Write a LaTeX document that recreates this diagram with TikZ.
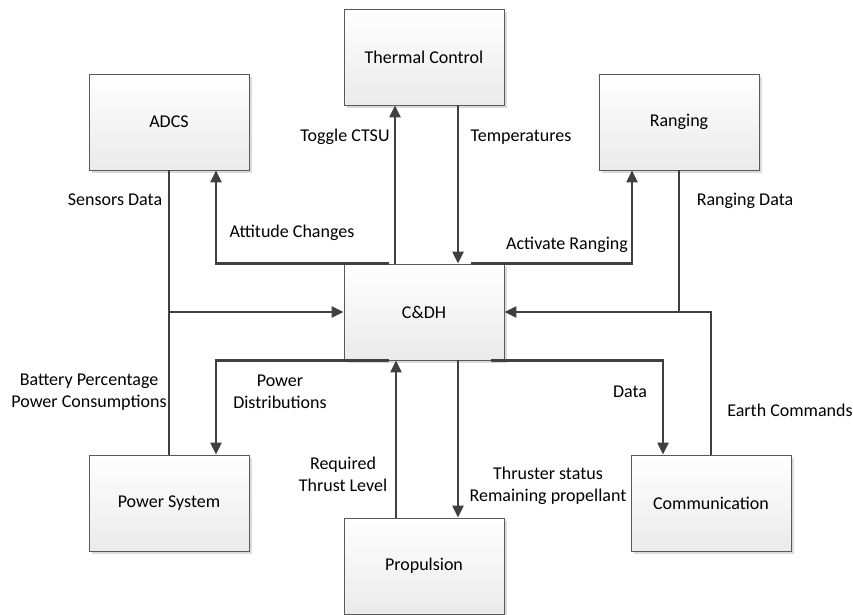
\documentclass[tikz,border=0pt]{standalone}
\usepackage{fontspec}
\setmainfont{Carlito}
\usetikzlibrary{positioning, shadows, calc, arrows.meta}
\tikzset{%
  block/.style = {draw = black!65, line width = 0.8bp, rectangle,
    minimum width = 160bp, minimum height = 96bp,
    top color = white, bottom color = black!8,
    drop shadow = {shadow xshift = 3bp, shadow yshift = -3bp,
      fill = black!14, opacity = 1}},
  wire/.style = {draw = black!75, line width = 2.2bp},
  link/.style = {wire, -{Triangle[length = 12bp, width = 11bp]}},
  lbl/.style = {align = center, inner sep = 0pt}
}

\begin{document}
\begin{tikzpicture}[x = 1bp, y = -1bp, font = \fontsize{18bp}{22bp}\selectfont]
\useasboundingbox (0,0) rectangle (853,615);
% blocks
\draw
	(424,57) node [block] (thermal) {Thermal Control}
	(169,122) node [block] (adcs) {ADCS}
	(679,122) node [block] (ranging) {Ranging}
	(424,312) node [block] (cdh) {C\&DH}
	(169,503) node [block] (power) {Power System}
	(424,566) node [block] (propulsion) {Propulsion}
	(711,503) node [block] (comm) {Communication};
% junctions
\coordinate (jl) at (adcs.south |- cdh.west);
\coordinate (jr) at (ranging.south |- cdh.east);
% sensor lines into C&DH
\draw [wire] (adcs) -- (jl);
\draw [wire] (power) -- (jl);
\draw [link] (jl) -- (cdh);
\draw [wire] (ranging) -- (jr);
\draw [wire] (comm.north) |- (jr);
\draw [link] (jr) -- (cdh);
% top lines
\draw [link] ([xshift=-29bp]cdh.north) -- ([xshift=-29bp]thermal.south);
\draw [link] ([xshift=-35bp]cdh.north) -| ([xshift=47bp]adcs.south);
\draw [link] ([xshift=34bp]thermal.south) -- ([xshift=34bp]cdh.north);
\draw [link] ([xshift=47bp]cdh.north) -| ([xshift=-47bp]ranging.south);
% bottom lines
\draw [link] ([xshift=-35bp]cdh.south) -| ([xshift=47bp]power.north);
\draw [link] ([xshift=-28bp]propulsion.north) -- ([xshift=-28bp]cdh.south);
\draw [link] ([xshift=34bp]cdh.south) -- ([xshift=34bp]propulsion.north);
\draw [link] ([xshift=67bp]cdh.south) -| ([xshift=-48bp]comm.north);
% signal labels
\node [lbl] (toggle) at (345,137) {Toggle CTSU};
\node [lbl] (temps) at (521,137) {Temperatures};
\node [lbl] (attitude) at (292,233) {Attitude Changes};
\node [lbl] (activate) at (567,245) {Activate Ranging};
\node [lbl] (sensors) at (115,200) {Sensors Data};
\node [lbl] (rdata) at (745,201) {Ranging Data};
\node [lbl] (battery) at (89,392) {Battery Percentage\\Power Consumptions};
\node [lbl] (powerdist) at (280,392) {Power\\Distributions};
\node [lbl] (data) at (630,392) {Data};
\node [lbl] (earth) at (790,410) {Earth Commands};
\node [lbl] (thrust) at (343,474) {Required\\Thrust Level};
\node [lbl] (thruster) at (548,486) {Thruster status\\Remaining propellant};
\end{tikzpicture}
\end{document}
